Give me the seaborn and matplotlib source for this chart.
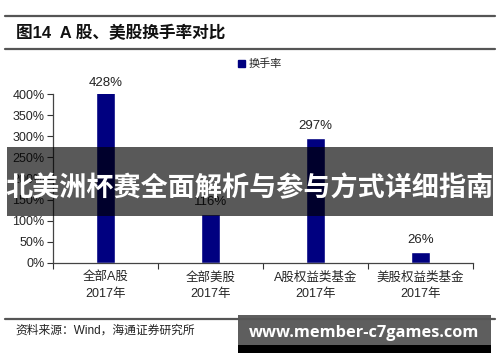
import pandas as pd
import matplotlib.pyplot as plt
import matplotlib.patches as mpatches
import seaborn as sns
from matplotlib.ticker import FuncFormatter, FixedLocator

## Turnover data (2017)
categories = ["全部A股\n2017年", "全部美股\n2017年", "A股权益类基金\n2017年", "美股权益类基金\n2017年"]
turnover = [4.28, 1.16, 2.97, 0.26]
value_labels = ["428%", "116%", "297%", "26%"]
yticks = [0, 0.5, 1.0, 1.5, 2.0, 2.5, 3.0, 3.5, 4.0]

df = pd.DataFrame({"类别": categories, "换手率": turnover})

sns.set_theme(style="white")
plt.rcParams['font.family'] = ['Liberation Sans', 'Noto Sans CJK SC', 'DejaVu Sans']

navy = "#000080"
fig = plt.figure(figsize=(5, 3.62), dpi=100)
ax = fig.add_axes([0.106, 0.2735, 0.84, 0.4665])

sns.barplot(data=df, x="类别", y="换手率", color=navy, saturation=1, width=0.19, ax=ax)

ymax = 4.0
ax.set_ylim(0, ymax)
ax.set_xlim(-0.5, 3.5)
ax.set_xlabel("")
ax.set_ylabel("")
ax.yaxis.set_major_locator(FixedLocator(yticks))
ax.yaxis.set_major_formatter(FuncFormatter(lambda v, p: f"{v*100:.0f}%"))
ax.tick_params(axis="y", direction="out", length=4, width=0.8, color="#333333",
               labelsize=9, pad=2, left=True)
ax.tick_params(axis="x", which="major", length=0, labelsize=9, pad=6)
ax.set_xticks([-0.5, 0.5, 1.5, 2.5, 3.5], minor=True)
ax.tick_params(axis="x", which="minor", direction="out", length=4, width=0.8,
               color="#333333", bottom=True)
for lab in ax.get_xticklabels():
    lab.set_linespacing(1.5)
for s in ["top", "right"]:
    ax.spines[s].set_visible(False)
for s in ["left", "bottom"]:
    ax.spines[s].set_color("#444444")
    ax.spines[s].set_linewidth(0.9)

# value labels sit above the (clipped) bar tops
for i, (v, t) in enumerate(zip(turnover, value_labels)):
    ax.annotate(t, (i, min(v, ymax)), xytext=(0, 4), textcoords="offset points",
                ha="center", va="bottom", fontsize=9.5, color="#222222",
                annotation_clip=False)

handle = mpatches.Patch(color=navy, label="换手率")
fig.legend(handles=[handle], loc="center", bbox_to_anchor=(0.52, 0.823), frameon=False,
           fontsize=8, handlelength=0.6, handleheight=0.6, handletextpad=0.3)

# header and footer
fig.add_artist(plt.Line2D([0.01, 0.99], [1 - 16/362, 1 - 16/362], color="#555555", lw=1.6))
fig.add_artist(plt.Line2D([0.01, 0.99], [1 - 49/362, 1 - 49/362], color="#555555", lw=1.6))
fig.text(0.032, 1 - 33/362, "图14  A 股、美股换手率对比", fontsize=12, fontweight="bold",
         va="center", color="#111111")
fig.add_artist(plt.Line2D([0.01, 0.99], [1 - 319/362, 1 - 319/362], color="#555555", lw=1.6))
fig.text(0.03, 1 - 331/362, "资料来源：Wind，海通证券研究所", fontsize=8.5, va="center",
         color="#222222")

# overlay banner
fig.add_artist(mpatches.Rectangle((7/500, 1 - 216/362), 486/500, 69/362,
                                  transform=fig.transFigure, color="black", alpha=0.65, lw=0))
fig.text(0.5, 1 - 188/362, "北美洲杯赛全面解析与参与方式详细指南", fontsize=19.5,
         fontweight="bold", color="white", ha="center", va="center",
         family=['Noto Sans CJK SC', 'DejaVu Sans'])

# watermark box
fig.add_artist(mpatches.Rectangle((238/500, 1 - 353/362), 253/500, 8/362,
                                  transform=fig.transFigure, color="black", lw=0))
fig.add_artist(mpatches.Rectangle((238/500, 1 - 345/362), 253/500, 30/362,
                                  transform=fig.transFigure, color="#5e5e5e", lw=0))
fig.text(364/500, 1 - 333/362, "www.member-c7games.com", fontsize=11.8, fontweight="bold",
         color="white", ha="center", va="center", family=['Open Sans', 'DejaVu Sans'])

fig.savefig("out.png", dpi=100)
